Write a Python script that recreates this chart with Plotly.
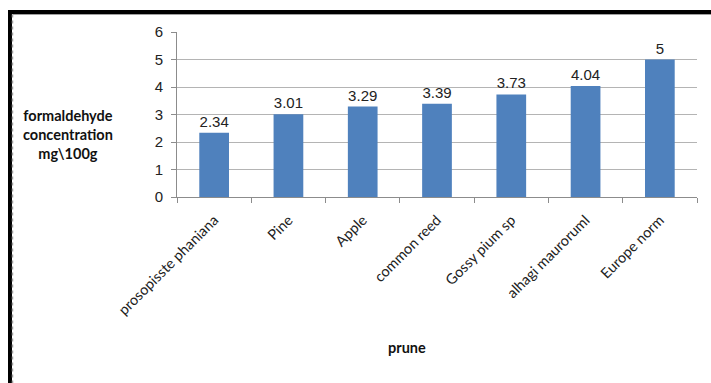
import plotly.graph_objects as go

# Formaldehyde content by prune (wood) type
categories = ["prosopisste phaniana", "Pine", "Apple", "common reed",
              "Gossy pium sp", "alhagi mauroruml", "Europe norm"]
values = [2.34, 3.01, 3.29, 3.39, 3.73, 4.04, 5]
value_labels = ["2.34", "3.01", "3.29", "3.39", "3.73", "4.04", "5"]
y_ticks = [0, 1, 2, 3, 4, 5, 6]

W, H = 711, 383
ML, MR, MT, MB = 177, 14, 32, 186
PW, PH = W - ML - MR, H - MT - MB


def px_x(x):
    return (x - ML) / PW


def px_y(y):
    return (H - MB - y) / PH


fig = go.Figure(go.Bar(
    x=categories,
    y=values,
    text=value_labels,
    textposition="outside",
    textfont=dict(family="Liberation Sans, Arial", size=15, color="#222222"),
    marker=dict(color="#4f81bd", line=dict(width=0)),
    cliponaxis=False,
))

fig.update_layout(
    width=W, height=H,
    margin=dict(l=ML, r=MR, t=MT, b=MB),
    paper_bgcolor="white",
    plot_bgcolor="white",
    bargap=0.6,
    showlegend=False,
    xaxis=dict(
        tickangle=-45,
        tickfont=dict(family="Lato, Open Sans", size=14.5, color="#222222"),
        showline=True, linecolor="#8c8c8c", linewidth=1,
        ticks="outside", ticklen=5, tickcolor="#8c8c8c",
        tickson="boundaries",
        ticklabelstandoff=8,
        showgrid=False,
    ),
    yaxis=dict(
        range=[0, 6],
        tickvals=y_ticks,
        tickfont=dict(family="Liberation Sans, Arial", size=15, color="#222222"),
        showline=True, linecolor="#8c8c8c", linewidth=1,
        ticks="outside", ticklen=5, tickcolor="#8c8c8c",
        ticklabelstandoff=5,
        showgrid=True, gridcolor="#b4b4b4", gridwidth=1,
        zeroline=False,
    ),
    annotations=[
        dict(text="<b>formaldehyde<br>concentration<br>mg\\100g</b>",
             xref="paper", yref="paper", x=px_x(68), y=px_y(134),
             xanchor="center", yanchor="middle",
             showarrow=False, align="center",
             font=dict(family="Lato, Open Sans", size=14.5, color="#111111")),
        dict(text="<b>prune</b>",
             xref="paper", yref="paper", x=px_x(407), y=px_y(347),
             xanchor="center", yanchor="middle",
             showarrow=False,
             font=dict(family="Lato, Open Sans", size=14.5, color="#111111")),
    ],
    shapes=[
        # heavy frame along the top and left edges
        dict(type="line", xref="paper", yref="paper",
             x0=px_x(8), x1=px_x(711), y0=px_y(12), y1=px_y(12),
             line=dict(color="black", width=4)),
        dict(type="line", xref="paper", yref="paper",
             x0=px_x(10), x1=px_x(10), y0=px_y(10), y1=px_y(383),
             line=dict(color="black", width=4)),
        # thin grey inner rule
        dict(type="line", xref="paper", yref="paper",
             x0=px_x(12.5), x1=px_x(711), y0=px_y(14.5), y1=px_y(14.5),
             line=dict(color="#a0a0a0", width=1)),
        dict(type="line", xref="paper", yref="paper",
             x0=px_x(12.5), x1=px_x(12.5), y0=px_y(14.5), y1=px_y(383),
             line=dict(color="#a0a0a0", width=1.5, dash="dot")),
    ],
)

fig.write_html("out.html")
